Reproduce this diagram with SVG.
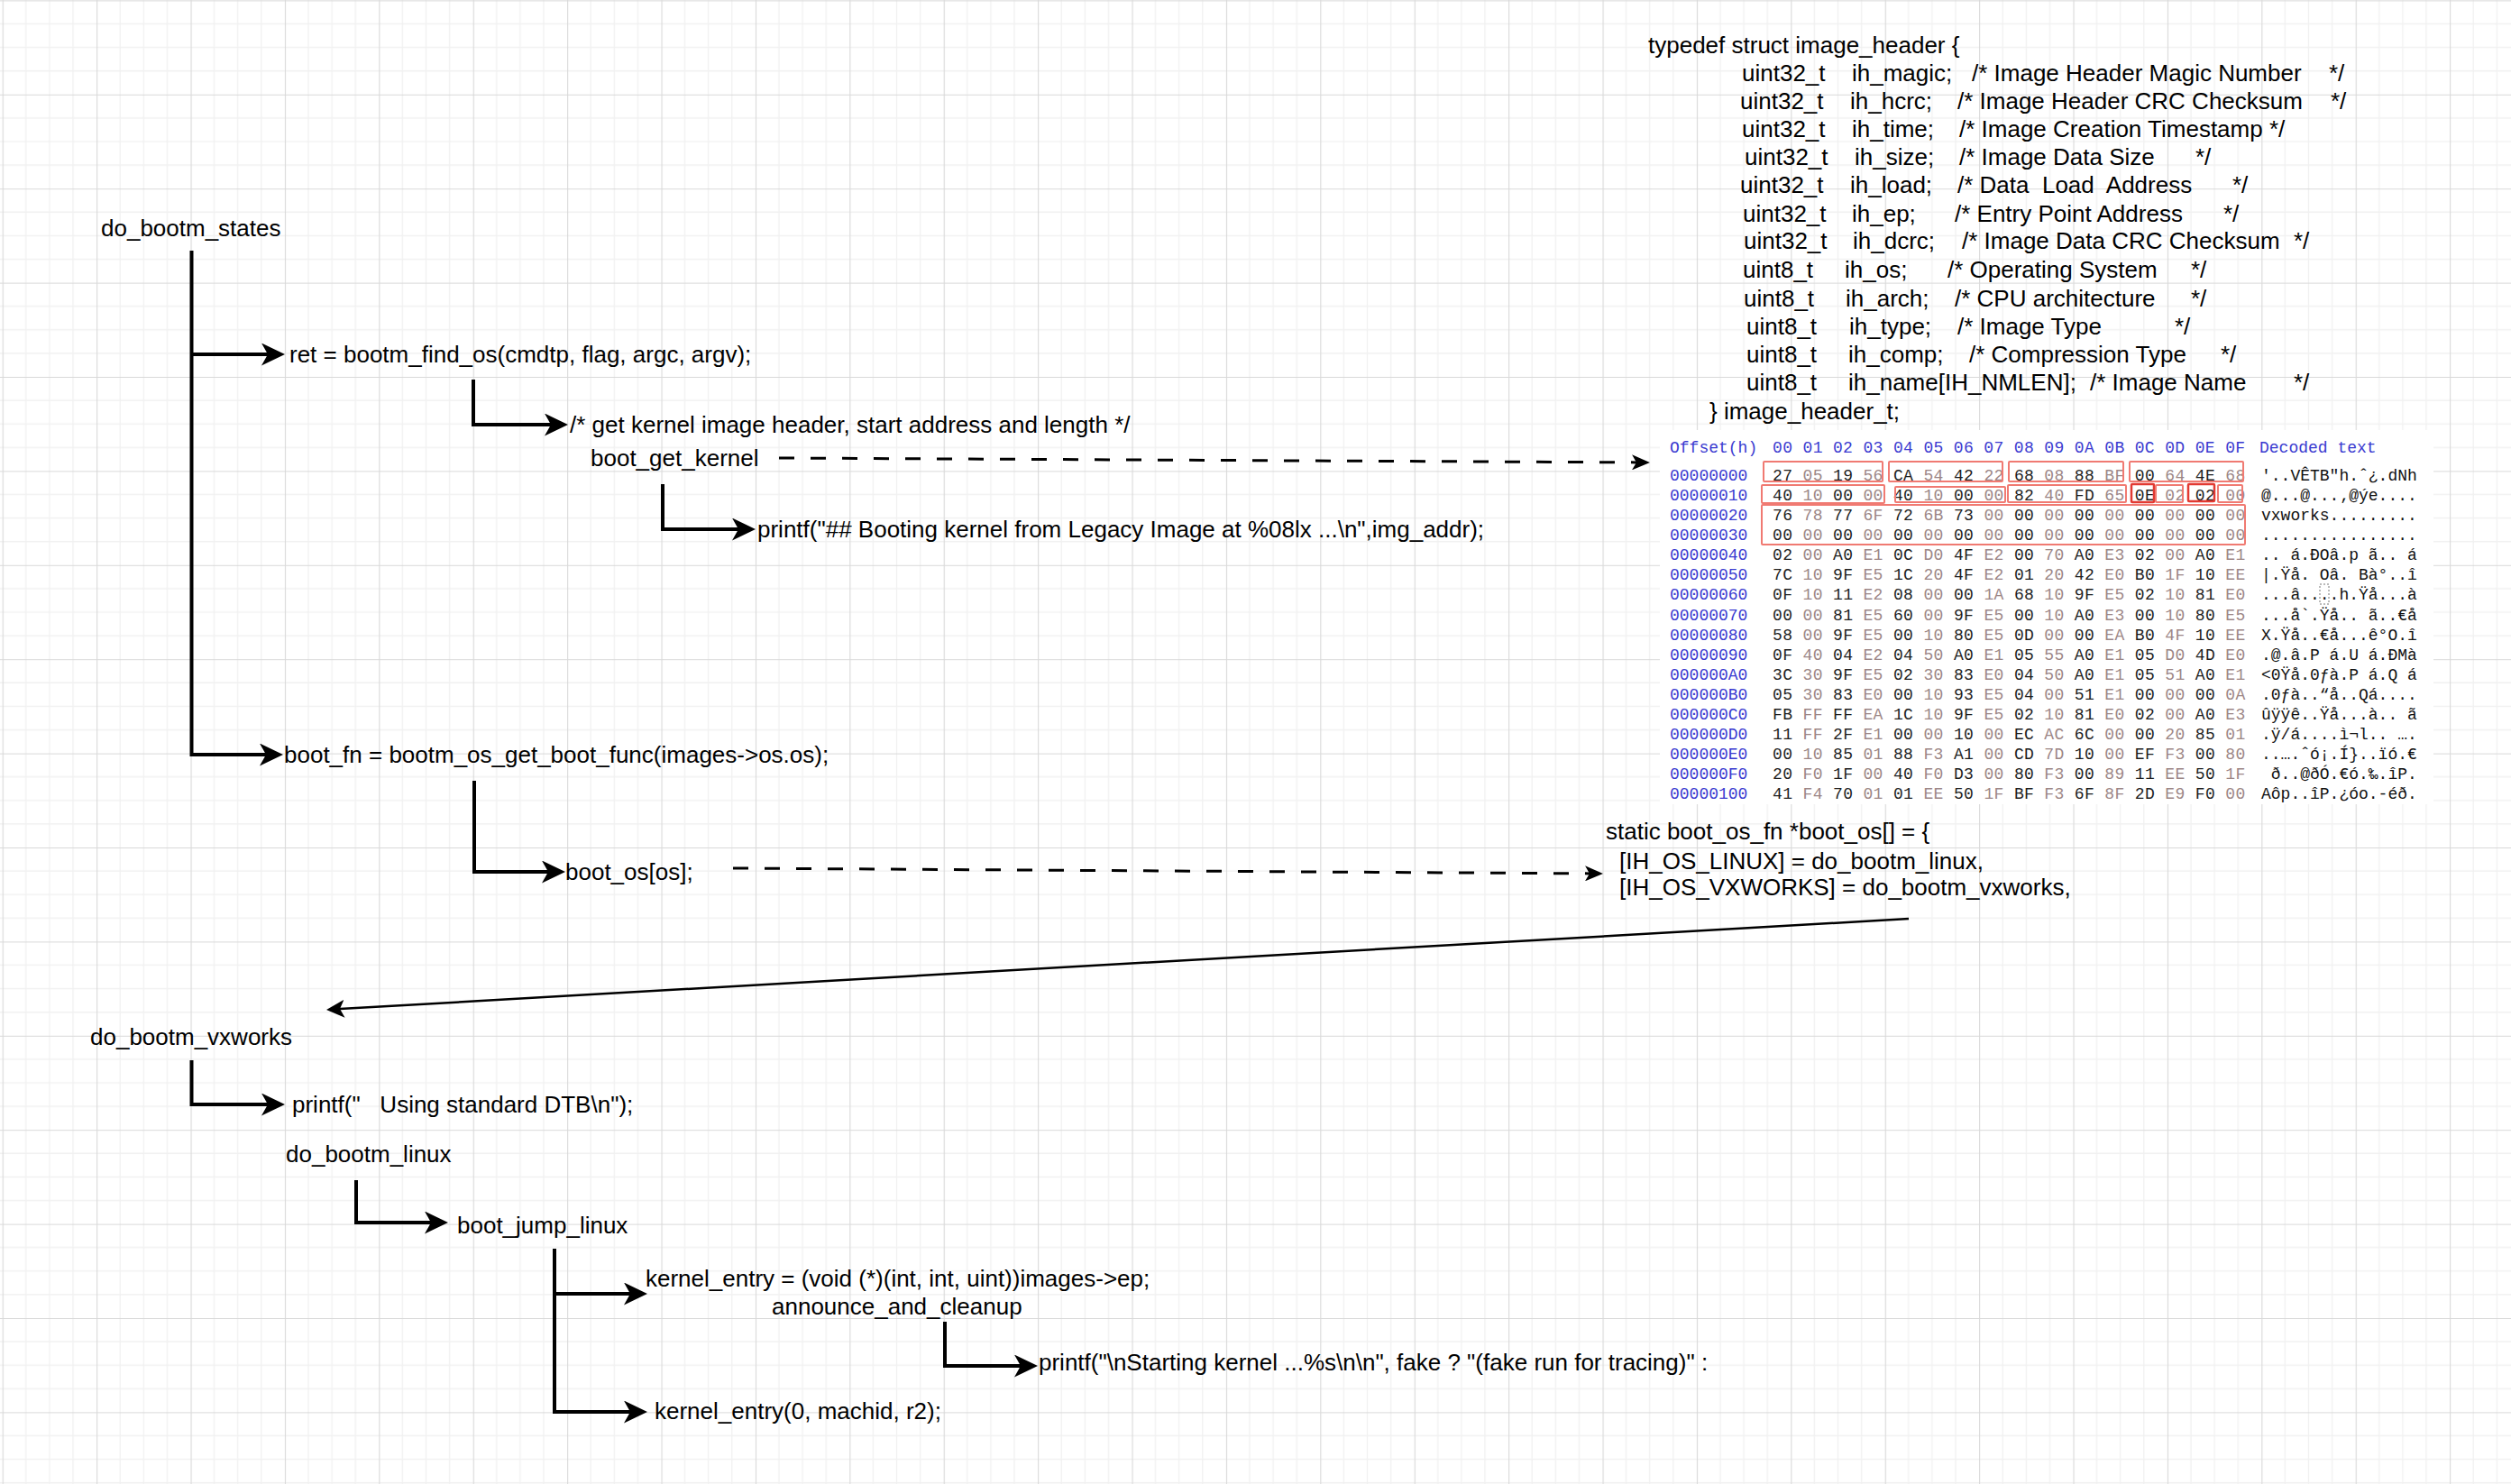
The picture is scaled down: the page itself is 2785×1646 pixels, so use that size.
<svg xmlns="http://www.w3.org/2000/svg" width="2785" height="1646" viewBox="0 0 2785 1646">
<style>
.t{font-family:"Liberation Sans",Arial,sans-serif;font-size:26px;fill:#000;white-space:pre}
.m{font-family:"Liberation Mono","Courier New",monospace;font-size:18px;white-space:pre}
.hx{letter-spacing:0.357px}
.bl{fill:#3a3ad0}
.ev{fill:#1e1e1e}
.od{fill:#9c8686}
.dc{fill:#111}
.tree{fill:none;stroke:#000;stroke-width:4}
.dash{fill:none;stroke:#000;stroke-width:3;stroke-dasharray:17 18}
.thin{fill:none;stroke:#000;stroke-width:2.5}
.rb{fill:none;stroke:#f07a72;stroke-width:2}
.rd{fill:none;stroke:#e23a32;stroke-width:2.5}
</style>
<defs>
<pattern id="grid" patternUnits="userSpaceOnUse" x="2.7" y="0.4" width="104.4" height="104.4">
<path d="M26.1 0V104.4M52.2 0V104.4M78.3 0V104.4M0 26.1H104.4M0 52.2H104.4M0 78.3H104.4" stroke="#f1f1f1" stroke-width="1.3"/>
<path d="M0.5 0V104.4M0 0.5H104.4" stroke="#d9d9d9" stroke-width="1.2"/>
</pattern>
<marker id="aT" markerUnits="userSpaceOnUse" viewBox="0 0 26 25" refX="7" refY="12.5" markerWidth="26" markerHeight="25" orient="auto"><path d="M0 0L26 12.5L0 25L7 12.5Z" fill="#000"/></marker>
<marker id="aD" markerUnits="userSpaceOnUse" viewBox="0 0 20 17" refX="5" refY="8.5" markerWidth="20" markerHeight="17" orient="auto"><path d="M0 0L20 8.5L0 17L5 8.5Z" fill="#000"/></marker>
<marker id="aS" markerUnits="userSpaceOnUse" viewBox="0 0 20 20" refX="5" refY="10" markerWidth="20" markerHeight="20" orient="auto"><path d="M0 0L20 10L0 20L5 10Z" fill="#000"/></marker>
</defs>
<rect width="2785" height="1646" fill="#fff"/>
<rect width="2785" height="1646" fill="url(#grid)"/>

<g id="connectors">
<path class="tree" d="M212.5 278V837H295" marker-end="url(#aT)"/>
<path class="tree" d="M212.5 393H297" marker-end="url(#aT)"/>
<path class="tree" d="M525 421V471H611" marker-end="url(#aT)"/>
<path class="tree" d="M735 537V587H819" marker-end="url(#aT)"/>
<path class="dash" d="M864 508L1815 512.9" marker-end="url(#aD)"/>
<path class="tree" d="M526 866V967H608" marker-end="url(#aT)"/>
<path class="dash" d="M813 963L1763 968.9" marker-end="url(#aD)"/>
<path class="thin" d="M2117 1019L377 1119.1" marker-end="url(#aS)"/>
<path class="tree" d="M212.5 1176V1225H297" marker-end="url(#aT)"/>
<path class="tree" d="M395 1309V1356H478" marker-end="url(#aT)"/>
<path class="tree" d="M615 1385V1566H699" marker-end="url(#aT)"/>
<path class="tree" d="M615 1435H699" marker-end="url(#aT)"/>
<path class="tree" d="M1048 1466V1515H1132" marker-end="url(#aT)"/>
</g>

<g id="n-do_bootm_states"><text class="t" x="112" y="262">do_bootm_states</text></g>
<g id="n-find_os"><text class="t" x="321" y="402">ret = bootm_find_os(cmdtp, flag, argc, argv);</text></g>
<g id="n-get_kernel_comment"><text class="t" x="632" y="480">/* get kernel image header, start address and length */</text></g>
<g id="n-boot_get_kernel"><text class="t" x="655" y="517">boot_get_kernel</text></g>
<g id="n-printf_booting"><text class="t" x="840" y="596">printf("## Booting kernel from Legacy Image at %08lx ...\n",img_addr);</text></g>
<g id="n-boot_fn"><text class="t" x="315" y="846">boot_fn = bootm_os_get_boot_func(images-&gt;os.os);</text></g>
<g id="n-boot_os"><text class="t" x="627" y="976">boot_os[os];</text></g>
<g id="n-boot_os_table">
<text class="t" x="1781" y="931">static boot_os_fn *boot_os[] = {</text>
<text class="t" x="1796" y="964">[IH_OS_LINUX] = do_bootm_linux,</text>
<text class="t" x="1796" y="993">[IH_OS_VXWORKS] = do_bootm_vxworks,</text>
</g>
<g id="n-do_bootm_vxworks"><text class="t" x="100" y="1159">do_bootm_vxworks</text></g>
<g id="n-printf_dtb"><text class="t" x="324" y="1234">printf("   Using standard DTB\n");</text></g>
<g id="n-do_bootm_linux"><text class="t" x="317" y="1289">do_bootm_linux</text></g>
<g id="n-boot_jump_linux"><text class="t" x="507" y="1368">boot_jump_linux</text></g>
<g id="n-kernel_entry_assign"><text class="t" x="716" y="1427">kernel_entry = (void (*)(int, int, uint))images-&gt;ep;</text></g>
<g id="n-announce"><text class="t" x="856" y="1458">announce_and_cleanup</text></g>
<g id="n-printf_starting"><text class="t" x="1152" y="1520">printf("\nStarting kernel ...%s\n\n", fake ? "(fake run for tracing)" :</text></g>
<g id="n-kernel_entry_call"><text class="t" x="726" y="1574">kernel_entry(0, machid, r2);</text></g>

<g id="n-image_header_struct">
<text class="t" x="1828" y="59">typedef struct image_header {</text>
<text class="t" x="1932" y="90">uint32_t</text><text class="t" x="2054" y="90">ih_magic;</text><text class="t" x="2187" y="90">/* Image Header Magic Number</text><text class="t" x="2583" y="90">*/</text>
<text class="t" x="1930" y="121">uint32_t</text><text class="t" x="2052" y="121">ih_hcrc;</text><text class="t" x="2171" y="121">/* Image Header CRC Checksum</text><text class="t" x="2585" y="121">*/</text>
<text class="t" x="1932" y="152">uint32_t</text><text class="t" x="2054" y="152">ih_time;</text><text class="t" x="2173" y="152">/* Image Creation Timestamp */</text>
<text class="t" x="1935" y="183">uint32_t</text><text class="t" x="2057" y="183">ih_size;</text><text class="t" x="2173" y="183">/* Image Data Size</text><text class="t" x="2435" y="183">*/</text>
<text class="t" x="1930" y="214">uint32_t</text><text class="t" x="2052" y="214">ih_load;</text><text class="t" x="2171" y="214">/* Data  Load  Address</text><text class="t" x="2476" y="214">*/</text>
<text class="t" x="1933" y="246">uint32_t</text><text class="t" x="2054" y="246">ih_ep;</text><text class="t" x="2168" y="246">/* Entry Point Address</text><text class="t" x="2466" y="246">*/</text>
<text class="t" x="1934" y="276">uint32_t</text><text class="t" x="2055" y="276">ih_dcrc;</text><text class="t" x="2176" y="276">/* Image Data CRC Checksum</text><text class="t" x="2544" y="276">*/</text>
<text class="t" x="1933" y="308">uint8_t</text><text class="t" x="2046" y="308">ih_os;</text><text class="t" x="2160" y="308">/* Operating System</text><text class="t" x="2430" y="308">*/</text>
<text class="t" x="1934" y="340">uint8_t</text><text class="t" x="2047" y="340">ih_arch;</text><text class="t" x="2168" y="340">/* CPU architecture</text><text class="t" x="2430" y="340">*/</text>
<text class="t" x="1937" y="371">uint8_t</text><text class="t" x="2051" y="371">ih_type;</text><text class="t" x="2171" y="371">/* Image Type</text><text class="t" x="2412" y="371">*/</text>
<text class="t" x="1937" y="402">uint8_t</text><text class="t" x="2050" y="402">ih_comp;</text><text class="t" x="2184" y="402">/* Compression Type</text><text class="t" x="2463" y="402">*/</text>
<text class="t" x="1937" y="433">uint8_t</text><text class="t" x="2050" y="433">ih_name[IH_NMLEN];</text><text class="t" x="2318" y="433">/* Image Name</text><text class="t" x="2544" y="433">*/</text>
<text class="t" x="1896" y="465">} image_header_t;</text>
</g>

<g id="n-hex_dump">
<rect x="1841" y="477" width="858" height="415" fill="#fff"/>
<text class="m bl" x="1852" y="502">Offset(h)</text>
<text class="m hx bl" x="1966" y="502">00 01 02 03 04 05 06 07 08 09 0A 0B 0C 0D 0E 0F</text>
<text class="m bl" x="2506" y="502">Decoded text</text>
<g class="m bl">
<text x="1852" y="533">00000000</text><text x="1852" y="555">00000010</text><text x="1852" y="577">00000020</text><text x="1852" y="599">00000030</text>
<text x="1852" y="621">00000040</text><text x="1852" y="643">00000050</text><text x="1852" y="665">00000060</text><text x="1852" y="688">00000070</text>
<text x="1852" y="710">00000080</text><text x="1852" y="732">00000090</text><text x="1852" y="754">000000A0</text><text x="1852" y="776">000000B0</text>
<text x="1852" y="798">000000C0</text><text x="1852" y="820">000000D0</text><text x="1852" y="842">000000E0</text><text x="1852" y="864">000000F0</text>
<text x="1852" y="886">00000100</text>
</g>
<g xml:space="preserve">
<text class="m hx ev" x="1966" y="533">27 <tspan class="od">05</tspan> 19 <tspan class="od">56</tspan> CA <tspan class="od">54</tspan> 42 <tspan class="od">22</tspan> 68 <tspan class="od">08</tspan> 88 <tspan class="od">BF</tspan> 00 <tspan class="od">64</tspan> 4E <tspan class="od">68</tspan></text>
<text class="m hx ev" x="1966" y="555">40 <tspan class="od">10</tspan> 00 <tspan class="od">00</tspan> 40 <tspan class="od">10</tspan> 00 <tspan class="od">00</tspan> 82 <tspan class="od">40</tspan> FD <tspan class="od">65</tspan> 0E <tspan class="od">02</tspan> 02 <tspan class="od">00</tspan></text>
<text class="m hx ev" x="1966" y="577">76 <tspan class="od">78</tspan> 77 <tspan class="od">6F</tspan> 72 <tspan class="od">6B</tspan> 73 <tspan class="od">00</tspan> 00 <tspan class="od">00</tspan> 00 <tspan class="od">00</tspan> 00 <tspan class="od">00</tspan> 00 <tspan class="od">00</tspan></text>
<text class="m hx ev" x="1966" y="599">00 <tspan class="od">00</tspan> 00 <tspan class="od">00</tspan> 00 <tspan class="od">00</tspan> 00 <tspan class="od">00</tspan> 00 <tspan class="od">00</tspan> 00 <tspan class="od">00</tspan> 00 <tspan class="od">00</tspan> 00 <tspan class="od">00</tspan></text>
<text class="m hx ev" x="1966" y="621">02 <tspan class="od">00</tspan> A0 <tspan class="od">E1</tspan> 0C <tspan class="od">D0</tspan> 4F <tspan class="od">E2</tspan> 00 <tspan class="od">70</tspan> A0 <tspan class="od">E3</tspan> 02 <tspan class="od">00</tspan> A0 <tspan class="od">E1</tspan></text>
<text class="m hx ev" x="1966" y="643">7C <tspan class="od">10</tspan> 9F <tspan class="od">E5</tspan> 1C <tspan class="od">20</tspan> 4F <tspan class="od">E2</tspan> 01 <tspan class="od">20</tspan> 42 <tspan class="od">E0</tspan> B0 <tspan class="od">1F</tspan> 10 <tspan class="od">EE</tspan></text>
<text class="m hx ev" x="1966" y="665">0F <tspan class="od">10</tspan> 11 <tspan class="od">E2</tspan> 08 <tspan class="od">00</tspan> 00 <tspan class="od">1A</tspan> 68 <tspan class="od">10</tspan> 9F <tspan class="od">E5</tspan> 02 <tspan class="od">10</tspan> 81 <tspan class="od">E0</tspan></text>
<text class="m hx ev" x="1966" y="688">00 <tspan class="od">00</tspan> 81 <tspan class="od">E5</tspan> 60 <tspan class="od">00</tspan> 9F <tspan class="od">E5</tspan> 00 <tspan class="od">10</tspan> A0 <tspan class="od">E3</tspan> 00 <tspan class="od">10</tspan> 80 <tspan class="od">E5</tspan></text>
<text class="m hx ev" x="1966" y="710">58 <tspan class="od">00</tspan> 9F <tspan class="od">E5</tspan> 00 <tspan class="od">10</tspan> 80 <tspan class="od">E5</tspan> 0D <tspan class="od">00</tspan> 00 <tspan class="od">EA</tspan> B0 <tspan class="od">4F</tspan> 10 <tspan class="od">EE</tspan></text>
<text class="m hx ev" x="1966" y="732">0F <tspan class="od">40</tspan> 04 <tspan class="od">E2</tspan> 04 <tspan class="od">50</tspan> A0 <tspan class="od">E1</tspan> 05 <tspan class="od">55</tspan> A0 <tspan class="od">E1</tspan> 05 <tspan class="od">D0</tspan> 4D <tspan class="od">E0</tspan></text>
<text class="m hx ev" x="1966" y="754">3C <tspan class="od">30</tspan> 9F <tspan class="od">E5</tspan> 02 <tspan class="od">30</tspan> 83 <tspan class="od">E0</tspan> 04 <tspan class="od">50</tspan> A0 <tspan class="od">E1</tspan> 05 <tspan class="od">51</tspan> A0 <tspan class="od">E1</tspan></text>
<text class="m hx ev" x="1966" y="776">05 <tspan class="od">30</tspan> 83 <tspan class="od">E0</tspan> 00 <tspan class="od">10</tspan> 93 <tspan class="od">E5</tspan> 04 <tspan class="od">00</tspan> 51 <tspan class="od">E1</tspan> 00 <tspan class="od">00</tspan> 00 <tspan class="od">0A</tspan></text>
<text class="m hx ev" x="1966" y="798">FB <tspan class="od">FF</tspan> FF <tspan class="od">EA</tspan> 1C <tspan class="od">10</tspan> 9F <tspan class="od">E5</tspan> 02 <tspan class="od">10</tspan> 81 <tspan class="od">E0</tspan> 02 <tspan class="od">00</tspan> A0 <tspan class="od">E3</tspan></text>
<text class="m hx ev" x="1966" y="820">11 <tspan class="od">FF</tspan> 2F <tspan class="od">E1</tspan> 00 <tspan class="od">00</tspan> 10 <tspan class="od">00</tspan> EC <tspan class="od">AC</tspan> 6C <tspan class="od">00</tspan> 00 <tspan class="od">20</tspan> 85 <tspan class="od">01</tspan></text>
<text class="m hx ev" x="1966" y="842">00 <tspan class="od">10</tspan> 85 <tspan class="od">01</tspan> 88 <tspan class="od">F3</tspan> A1 <tspan class="od">00</tspan> CD <tspan class="od">7D</tspan> 10 <tspan class="od">00</tspan> EF <tspan class="od">F3</tspan> 00 <tspan class="od">80</tspan></text>
<text class="m hx ev" x="1966" y="864">20 <tspan class="od">F0</tspan> 1F <tspan class="od">00</tspan> 40 <tspan class="od">F0</tspan> D3 <tspan class="od">00</tspan> 80 <tspan class="od">F3</tspan> 00 <tspan class="od">89</tspan> 11 <tspan class="od">EE</tspan> 50 <tspan class="od">1F</tspan></text>
<text class="m hx ev" x="1966" y="886">41 <tspan class="od">F4</tspan> 70 <tspan class="od">01</tspan> 01 <tspan class="od">EE</tspan> 50 <tspan class="od">1F</tspan> BF <tspan class="od">F3</tspan> 6F <tspan class="od">8F</tspan> 2D <tspan class="od">E9</tspan> F0 <tspan class="od">00</tspan></text>
</g>
<g xml:space="preserve">
<text class="m dc" x="2508" y="533">'..VÊTB"h.ˆ¿.dNh</text>
<text class="m dc" x="2508" y="555">@...@...‚@ýe....</text>
<text class="m dc" x="2508" y="577">vxworks.........</text>
<text class="m dc" x="2508" y="599">................</text>
<text class="m dc" x="2508" y="621">.. á.ÐOâ.p ã.. á</text>
<text class="m dc" x="2508" y="643">|.Ÿå. Oâ. Bà°..î</text>
<text class="m dc" x="2508" y="665">...â....h.Ÿå...à</text>
<text class="m dc" x="2508" y="688">...å`.Ÿå.. ã..€å</text>
<text class="m dc" x="2508" y="710">X.Ÿå..€å...ê°O.î</text>
<text class="m dc" x="2508" y="732">.@.â.P á.U á.ÐMà</text>
<text class="m dc" x="2508" y="754">&lt;0Ÿå.0ƒà.P á.Q á</text>
<text class="m dc" x="2508" y="776">.0ƒà..“å..Qá....</text>
<text class="m dc" x="2508" y="798">ûÿÿê..Ÿå...à.. ã</text>
<text class="m dc" x="2508" y="820">.ÿ/á....ì¬l.. ….</text>
<text class="m dc" x="2508" y="842">..….ˆó¡.Í}..ïó.€</text>
<text class="m dc" x="2508" y="864"> ð..@ðÓ.€ó.‰.îP.</text>
<text class="m dc" x="2508" y="886">Aôp..îP.¿óo.-éð.</text>
</g>
<rect x="2573" y="648" width="10" height="22" fill="none" stroke="#777" stroke-width="1" stroke-dasharray="2 2"/>
<rect class="rb" x="1956" y="512" width="132" height="22" rx="1"/>
<rect class="rb" x="2095" y="512" width="126" height="22" rx="1"/>
<rect class="rb" x="2228" y="512" width="127" height="22" rx="1"/>
<rect class="rb" x="2362" y="512" width="126" height="22" rx="1"/>
<rect class="rb" x="1954" y="538" width="136" height="20" rx="1"/>
<rect class="rb" x="2102" y="540" width="122" height="17" rx="1"/>
<rect class="rb" x="2227" y="538" width="131" height="19" rx="1"/>
<rect class="rd" x="2364" y="537" width="25" height="20" rx="1"/>
<rect class="rb" x="2391" y="538" width="30" height="19" rx="1"/>
<rect class="rd" x="2427" y="537" width="29" height="19" rx="1"/>
<rect class="rb" x="2460" y="538" width="27" height="19" rx="1"/>
<rect class="rb" x="1954" y="560" width="536" height="44" rx="1"/>
</g>
</svg>
